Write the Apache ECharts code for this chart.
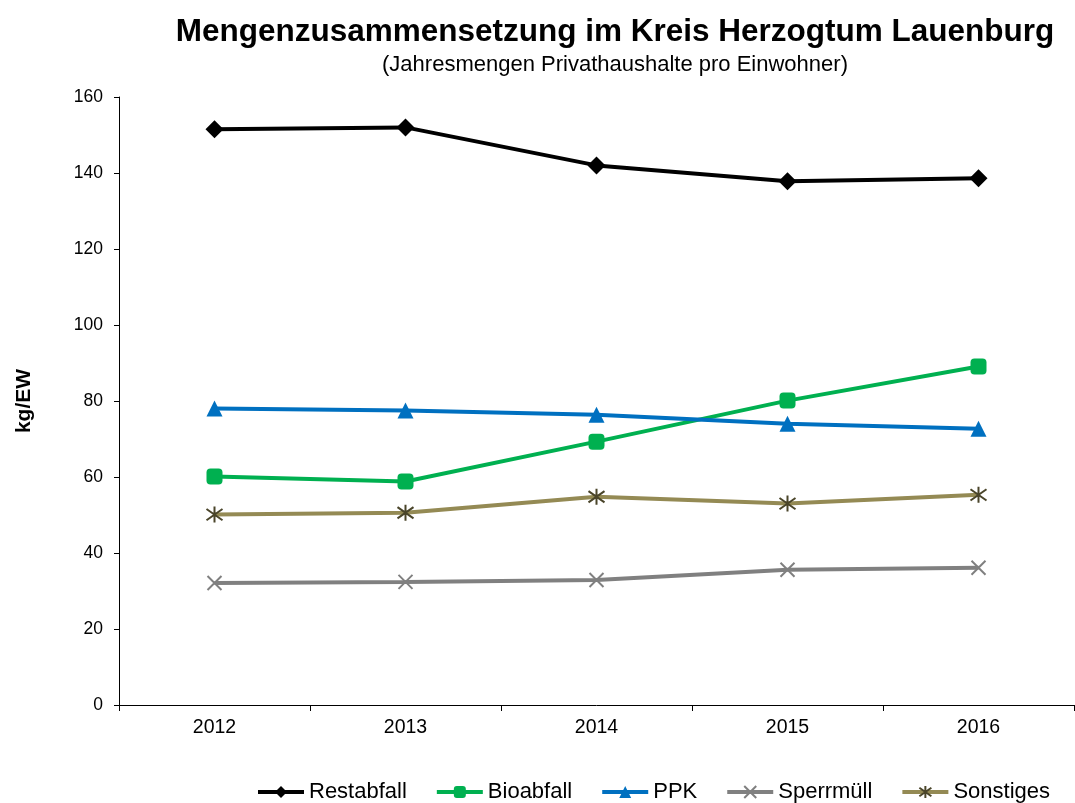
<!DOCTYPE html>
<html>
<head>
<meta charset="utf-8">
<script src="https://cdn.jsdelivr.net/npm/echarts@6/dist/echarts.min.js"></script>
<style>html,body{margin:0;padding:0;background:#fff}#c{width:1075px;height:803px}</style>
</head>
<body>
<div id="c"></div>
<script>
const categories = ['2012', '2013', '2014', '2015', '2016'];
const restabfall = [151.5, 152.0, 142.0, 137.8, 138.6];
const bioabfall = [60.1, 58.8, 69.3, 80.1, 89.1];
const ppk = [78.0, 77.5, 76.4, 74.0, 72.7];
const sperrmuell = [32.1, 32.4, 32.9, 35.6, 36.1];
const sonstiges = [50.1, 50.6, 54.8, 53.0, 55.3];
const yTicks = [0, 20, 40, 60, 80, 100, 120, 140, 160];

const FONT = '"Liberation Sans", Arial, sans-serif';
const crossPath = 'path://M0,0L10,10M10,0L0,10';
const starPath = 'path://M5,0L5,10M0,1.5L10,8.5M0,8.5L10,1.5';

function mk(name, data, lineColor, symbol, symColor, size, extra) {
  return Object.assign({
    name: name,
    type: 'line',
    data: data,
    symbol: symbol,
    symbolSize: size,
    lineStyle: { color: lineColor, width: 4 },
    itemStyle: { color: symColor, borderColor: symColor, borderWidth: 0 },
    emphasis: { disabled: true },
    z: 2
  }, extra || {});
}

const chart = echarts.init(document.getElementById('c'), null, { renderer: 'canvas' });
chart.setOption({
  animation: false,
  backgroundColor: '#fff',
  textStyle: { fontFamily: FONT },
  title: [
    { text: 'Mengenzusammensetzung im Kreis Herzogtum Lauenburg', left: 610, textAlign: 'center', top: 11,
      textStyle: { fontFamily: FONT, fontSize: 31.5, fontWeight: 'bold', color: '#000' } },
    { text: '(Jahresmengen Privathaushalte pro Einwohner)', left: 610, textAlign: 'center', top: 49,
      textStyle: { fontFamily: FONT, fontSize: 22, fontWeight: 'normal', color: '#000' } }
  ],
  grid: { left: 119, right: 1, top: 97, bottom: 98, containLabel: false },
  legend: {
    orient: 'horizontal', bottom: 0, left: 256, width: 815, padding: 0,
    itemGap: 28, itemWidth: 46, itemHeight: 15,
    lineStyle: { width: 4 },
    textStyle: { fontFamily: FONT, fontSize: 22, color: '#000' },
    data: ['Restabfall', 'Bioabfall', 'PPK', 'Sperrmüll', 'Sonstiges']
  },
  xAxis: {
    type: 'category', data: categories, boundaryGap: true,
    axisLine: { lineStyle: { color: '#000', width: 1 } },
    axisTick: { show: true, length: 6, inside: false, lineStyle: { color: '#000' } },
    axisLabel: { fontFamily: FONT, fontSize: 19.5, color: '#000', margin: 13 }
  },
  yAxis: {
    type: 'value', min: yTicks[0], max: yTicks[yTicks.length - 1], interval: yTicks[1] - yTicks[0],
    name: 'kg/EW', nameLocation: 'middle', nameGap: 84, nameRotate: 90,
    nameTextStyle: { fontFamily: FONT, fontSize: 21, fontWeight: 'bold', color: '#000' },
    splitLine: { show: false },
    axisLine: { show: true, lineStyle: { color: '#000', width: 1 } },
    axisTick: { show: true, length: 5, lineStyle: { color: '#000' } },
    axisLabel: { fontFamily: FONT, fontSize: 17.5, color: '#000', margin: 16 }
  },
  series: [
    mk('Restabfall', restabfall, '#000000', 'diamond', '#000000', 18),
    mk('Bioabfall', bioabfall, '#00b050', 'roundRect', '#00b050', 16),
    mk('PPK', ppk, '#0070c0', 'triangle', '#0070c0', 16),
    mk('Sperrmüll', sperrmuell, '#808080', crossPath, '#808080', 14,
      { itemStyle: { color: 'none', borderColor: '#808080', borderWidth: 2 } }),
    mk('Sonstiges', sonstiges, '#948a54', starPath, '#4a452a', 16,
      { itemStyle: { color: 'none', borderColor: '#4a452a', borderWidth: 2 } })
  ]
});
</script>
</body>
</html>
